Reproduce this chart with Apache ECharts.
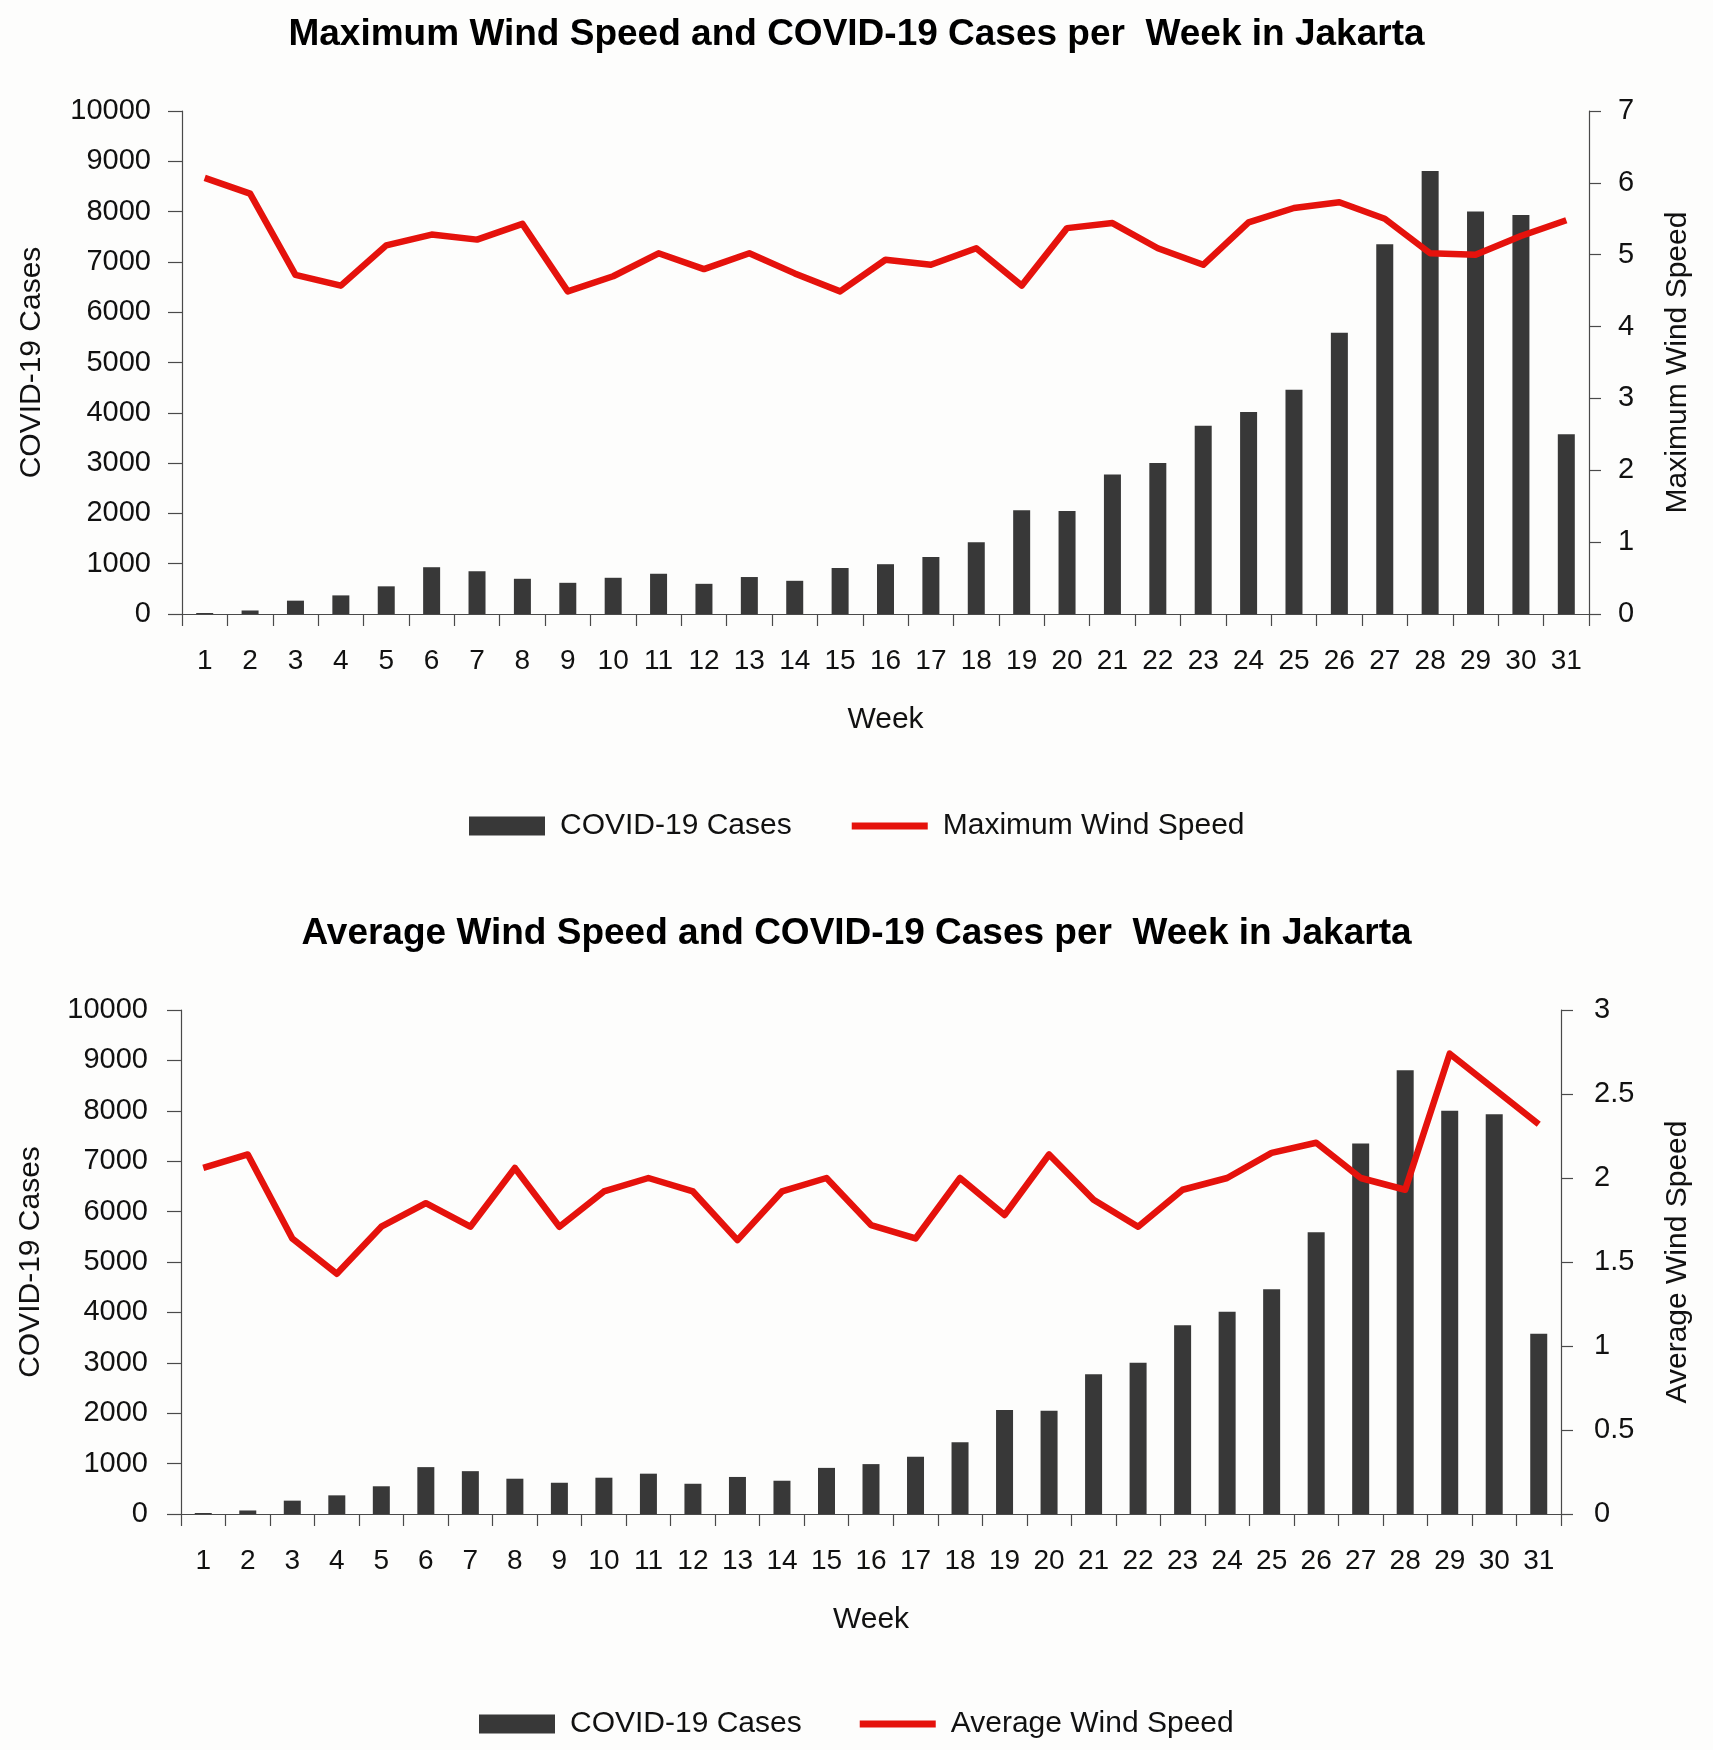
<!DOCTYPE html>
<html>
<head>
<meta charset="utf-8">
<script src="https://cdn.jsdelivr.net/npm/echarts@6/dist/echarts.min.js"></script>
<style>
html,body{margin:0;padding:0;background:#fdfdfc;}
#chart{width:1713px;height:1750px;}
</style>
</head>
<body>
<div id="chart"></div>
<script>
const weeks = ['1','2','3','4','5','6','7','8','9','10','11','12','13','14','15','16','17','18','19','20','21','22','23','24','25','26','27','28','29','30','31'];
const cases = [20, 70, 265, 370, 550, 930, 850, 700, 620, 720, 800, 600, 735, 660, 915, 990, 1135, 1425, 2065, 2050, 2775, 3000, 3745, 4015, 4460, 5590, 7350, 8805, 8000, 7930, 3575];
const maxWind = [6.07, 5.85, 4.72, 4.57, 5.13, 5.28, 5.21, 5.43, 4.49, 4.70, 5.02, 4.80, 5.02, 4.74, 4.49, 4.93, 4.86, 5.09, 4.57, 5.37, 5.44, 5.09, 4.86, 5.45, 5.65, 5.73, 5.50, 5.02, 5.00, 5.26, 5.48];
const avgWind = [2.06, 2.14, 1.64, 1.43, 1.71, 1.85, 1.71, 2.06, 1.71, 1.92, 2.00, 1.92, 1.63, 1.92, 2.00, 1.72, 1.64, 2.00, 1.78, 2.14, 1.87, 1.71, 1.93, 2.00, 2.15, 2.21, 2.00, 1.93, 2.74, 2.53, 2.32];
const titles = ['Maximum Wind Speed and COVID-19 Cases per  Week in Jakarta', 'Average Wind Speed and COVID-19 Cases per  Week in Jakarta'];
const seriesNames = ['COVID-19 Cases', 'Maximum Wind Speed', 'Average Wind Speed'];

const FONT = 'Liberation Sans';
const TXT = '#111';
const AXC = '#4a4a4a';
const BAR = '#383838';
const RED = '#e5120c';

function xAxisDef(gi) {
  return {
    type: 'category', gridIndex: gi, data: weeks,
    name: 'Week', nameLocation: 'middle', nameGap: 91,
    nameTextStyle: {fontFamily: FONT, fontSize: 30, color: TXT},
    axisLine: {lineStyle: {color: AXC, width: 1.2}},
    axisTick: {show: true, length: 12, lineStyle: {color: AXC, width: 1.2}},
    axisLabel: {fontFamily: FONT, fontSize: 28, color: TXT, margin: 33, interval: 0}
  };
}
function leftY(gi, margin) {
  return {
    type: 'value', gridIndex: gi, min: 0, max: 10000, interval: 1000,
    name: 'COVID-19 Cases', nameLocation: 'middle', nameRotate: 90, nameGap: 135,
    nameTextStyle: {fontFamily: FONT, fontSize: 30, color: TXT},
    splitLine: {show: false},
    axisLine: {show: true, lineStyle: {color: AXC, width: 1.2}},
    axisTick: {show: true, length: 14, lineStyle: {color: AXC, width: 1.2}},
    axisLabel: {fontFamily: FONT, fontSize: 29, color: TXT, margin: margin, formatter: function (v) { return String(v); }}
  };
}
function rightY(gi, name, max, interval, margin, gap) {
  return {
    type: 'value', gridIndex: gi, position: 'right', min: 0, max: max, interval: interval,
    name: name, nameLocation: 'middle', nameRotate: 90, nameGap: gap,
    nameTextStyle: {fontFamily: FONT, fontSize: 30, color: TXT},
    splitLine: {show: false},
    axisLine: {show: true, lineStyle: {color: AXC, width: 1.2}},
    axisTick: {show: true, length: 12, lineStyle: {color: AXC, width: 1.2}},
    axisLabel: {fontFamily: FONT, fontSize: 29, color: TXT, margin: margin, formatter: function (v) { return String(v); }}
  };
}
function legendDef(left, top, gap, lineName) {
  return {
    left: left, top: top, itemWidth: 76, itemHeight: 19, itemGap: gap,
    textStyle: {fontFamily: FONT, fontSize: 30, color: TXT, padding: [0, 0, 0, 10]},
    data: [
      {name: seriesNames[0], icon: 'rect'},
      {name: lineName, icon: 'path://M0,0L78,0L78,7L0,7Z', itemStyle: {color: RED}}
    ],
    selectedMode: false
  };
}

const chart = echarts.init(document.getElementById('chart'));
chart.setOption({
  backgroundColor: '#fdfdfc',
  animation: false,
  title: [
    {text: titles[0], left: 'center', top: 16, padding: 0, textStyle: {fontFamily: FONT, fontSize: 37, fontWeight: 'bold', color: '#000'}},
    {text: titles[1], left: 'center', top: 915, padding: 0, textStyle: {fontFamily: FONT, fontSize: 37, fontWeight: 'bold', color: '#000'}}
  ],
  legend: [
    legendDef(464, 806, 60, seriesNames[1]),
    legendDef(474, 1704, 58, seriesNames[2])
  ],
  grid: [
    {left: 182, right: 124, top: 111, height: 503, outerBoundsMode: 'none'},
    {left: 181, right: 152, top: 1010, height: 504, outerBoundsMode: 'none'}
  ],
  xAxis: [xAxisDef(0), xAxisDef(1)],
  yAxis: [
    leftY(0, 31),
    rightY(0, seriesNames[1], 7, 1, 29, 74),
    leftY(1, 33),
    rightY(1, seriesNames[2], 3, 0.5, 33, 102)
  ],
  series: [
    {name: seriesNames[0], type: 'bar', xAxisIndex: 0, yAxisIndex: 0, data: cases, barWidth: 17, itemStyle: {color: BAR}},
    {name: seriesNames[1], type: 'line', xAxisIndex: 0, yAxisIndex: 1, data: maxWind, symbol: 'none', lineStyle: {color: RED, width: 6.5, join: 'round'}, itemStyle: {color: RED}},
    {name: seriesNames[0], type: 'bar', xAxisIndex: 1, yAxisIndex: 2, data: cases, barWidth: 17, itemStyle: {color: BAR}},
    {name: seriesNames[2], type: 'line', xAxisIndex: 1, yAxisIndex: 3, data: avgWind, symbol: 'none', lineStyle: {color: RED, width: 6.5, join: 'round'}, itemStyle: {color: RED}}
  ]
});
</script>
</body>
</html>
